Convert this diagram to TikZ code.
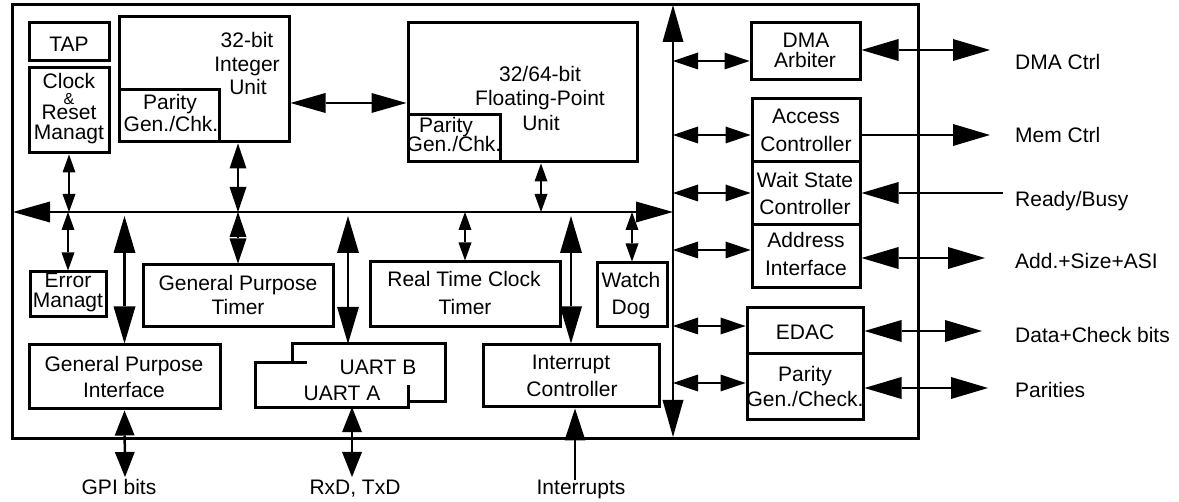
\documentclass[tikz,border=0pt]{standalone}
\usepackage{fontspec}
\setmainfont{Liberation Sans}
\usetikzlibrary{arrows.meta,fit}
\newcommand\mkbox[5]{\node[box,fit={(#2,#3) (#4,#5)}] (#1) {};}
\begin{document}
\begin{tikzpicture}[x=1pt,y=-1pt,
  box/.style={draw,line width=3pt,inner sep=0pt},
  txt/.style={font=\fontsize{21}{24}\selectfont,anchor=base,inner sep=0pt},
  lbl/.style={txt,anchor=base west},
  conn/.style={line width=2.5pt},
  bigarr/.style={conn,{Triangle[length=37pt,width=22pt,line width=0pt]}-{Triangle[length=37pt,width=22pt,line width=0pt]}},
  bigsingle/.style={conn,-{Triangle[length=37pt,width=22pt,line width=0pt]}},
  intarr/.style={conn,-{Triangle[length=32pt,width=21pt,line width=0pt]}},
  iuarr/.style={conn,{Triangle[length=35pt,width=20pt,line width=0pt]}-{Triangle[length=35pt,width=20pt,line width=0pt]}},
  medarr/.style={conn,{Triangle[length=25pt,width=17pt,line width=0pt]}-{Triangle[length=25pt,width=17pt,line width=0pt]}},
  botarr/.style={conn,{Triangle[length=25pt,width=20pt,line width=0pt]}-{Triangle[length=25pt,width=20pt,line width=0pt]}},
  smallarr/.style={conn,{Triangle[length=18pt,width=13pt,line width=0pt]}-{Triangle[length=18pt,width=13pt,line width=0pt]}},
  busarr/.style={conn,{Triangle[length=37pt,width=21pt,line width=0pt]}-{Triangle[length=37pt,width=21pt,line width=0pt]}}
]
\useasboundingbox (0,0) rectangle (1179,502);
% frame
\mkbox{frame}{12}{5}{918}{439}
% boxes
\mkbox{tap}{29}{23}{109}{61}
\mkbox{clk}{29}{68}{109}{153}
\mkbox{iu}{119}{17}{289}{142}
\mkbox{iup}{119}{90}{219}{142}
\mkbox{fpu}{408}{23}{637}{162}
\mkbox{fpup}{408}{115}{500}{162}
\mkbox{err}{30}{272}{106}{317}
\mkbox{gpt}{143}{265}{333}{327}
\mkbox{gpi}{29}{345}{220}{409}
\mkbox{rtc}{370}{262}{560}{327}
\mkbox{wd}{597}{263}{667}{327}
\mkbox{intc}{483}{345}{659}{407}
\mkbox{dma}{751}{23}{860}{80}
\mkbox{acc}{752}{99}{860}{162}
\mkbox{wait}{752}{162}{860}{225}
\mkbox{addr}{752}{225}{860}{288}
\mkbox{edac}{747}{308}{863}{354}
\mkbox{par}{747}{354}{863}{420}
% UART (two stacked boxes, union outline)
\node[inner sep=0pt,fit={(293,344) (445,401)}] (uartb) {};
\node[inner sep=0pt,fit={(256,363) (408,407)}] (uarta) {};
\draw[line width=3pt] (uarta.north west) -- (uarta.north west -| uartb.west) -- (uartb.north west)
  -- (uartb.north east) -- (uartb.south east) -- (uartb.south east -| uarta.east)
  -- (uarta.south east) -- (uarta.south west) -- cycle;
\draw[line width=3pt] (uarta.north west) -- ++(51,0);
\draw[line width=3pt] (uarta.south east) -- ++(0,-22);
% texts
\node[txt] (tap-t) at (69,52) {TAP};
\node[txt] (clk-t1) at (69,89) {Clock};
\node[txt,font=\fontsize{16}{18}\selectfont] (clk-t2) at (69,105) {\&};
\node[txt] (clk-t3) at (69,120) {Reset};
\node[txt] (clk-t4) at (69,140) {Managt};
\node[txt] (iu-t1) at (247,48) {32-bit};
\node[txt] (iu-t2) at (247,72) {Integer};
\node[txt] (iu-t3) at (248,95) {Unit};
\node[txt] (iup-t1) at (170,110) {Parity};
\node[txt] (iup-t2) at (171,132) {Gen./Chk.};
\node[txt] (fpu-t1) at (540,82) {32/64-bit};
\node[txt] (fpu-t2) at (540,106) {Floating-Point};
\node[txt] (fpu-t3) at (541,131) {Unit};
\node[txt] (fpup-t1) at (446,133) {Parity};
\node[txt] (fpup-t2) at (454,152) {Gen./Chk.};
\node[txt] (err-t1) at (68,288) {Error};
\node[txt] (err-t2) at (68,308) {Managt};
\node[txt] (gpt-t1) at (238,291) {General Purpose};
\node[txt] (gpt-t2) at (238,315) {Timer};
\node[txt] (gpi-t1) at (124,372) {General Purpose};
\node[txt] (gpi-t2) at (124,398) {Interface};
\node[txt] (uartb-t) at (378,375) {UART B};
\node[txt] (uarta-t) at (342,401) {UART A};
\node[txt] (rtc-t1) at (464,287) {Real Time Clock};
\node[txt] (rtc-t2) at (465,315) {Timer};
\node[txt] (wd-t1) at (631,288) {Watch};
\node[txt] (wd-t2) at (631,315) {Dog};
\node[txt] (intc-t1) at (571,370) {Interrupt};
\node[txt] (intc-t2) at (572,397) {Controller};
\node[txt] (dma-t1) at (806,48) {DMA};
\node[txt] (dma-t2) at (805,68) {Arbiter};
\node[txt] (acc-t1) at (806,124) {Access};
\node[txt] (acc-t2) at (806,152) {Controller};
\node[txt] (wait-t1) at (805,188) {Wait State};
\node[txt] (wait-t2) at (805,215) {Controller};
\node[txt] (addr-t1) at (806,248) {Address};
\node[txt] (addr-t2) at (806,276) {Interface};
\node[txt] (edac-t) at (805,340) {EDAC};
\node[txt] (par-t1) at (805,382) {Parity};
\node[txt] (par-t2) at (805,407) {Gen./Check.};
\node[lbl] (l-dma) at (1015,70) {DMA Ctrl};
\node[lbl] (l-mem) at (1015,143) {Mem Ctrl};
\node[lbl] (l-rdy) at (1015,207) {Ready/Busy};
\node[lbl] (l-add) at (1015,269) {Add.+Size+ASI};
\node[lbl] (l-data) at (1015,343) {Data+Check bits};
\node[lbl] (l-par) at (1015,398) {Parities};
\node[txt] (l-gpi) at (119,495) {GPI bits};
\node[txt] (l-rxd) at (355,495) {RxD, TxD};
\node[txt] (l-int) at (581,495) {Interrupts};
% buses
\coordinate (hbL) at (13,212);
\coordinate (hbR) at (673,212);
\coordinate (vbT) at (673,5);
\coordinate (vbB) at (673,437);
\draw[busarr] (hbL) -- (hbR);
\draw[busarr] (vbT) -- (vbB);
% helper coordinates
\coordinate (xfpu) at (541,0);
\coordinate (xuart) at (348,0);
\coordinate (yiu) at (0,103);
\coordinate (ybus) at (0,216);
% small arrows
\draw[smallarr] (clk.south) -- (clk.south |- hbL);
\draw[smallarr] (hbL -| err.north) -- (err.north);
\draw[smallarr] (hbL -| rtc.north) -- (rtc.north);
\draw[smallarr] (hbL -| wd.north) -- (wd.north);
\draw[smallarr] (xfpu |- fpu.south) -- (xfpu |- hbL);
% medium
\draw[medarr] (gpt.north |- iu.south) -- (gpt.north |- hbL);
\draw[medarr] (hbL -| gpt.north) -- (gpt.north);
% big
\draw[bigarr] (ybus -| gpi.north) -- (gpi.north);
\draw[bigarr] (xuart |- ybus) -- (xuart |- uartb.north);
\draw[bigarr] (ybus -| intc.north) -- (intc.north);
\draw[iuarr] (iu.east |- yiu) -- (fpu.west |- yiu);
% bottom
\coordinate (gpibits) at (125,477);
\coordinate (rxd) at (352,477);
\coordinate (intin) at (575,480);
\draw[botarr] (gpi.south) -- (gpibits);
\draw[botarr] (rxd |- uarta.south) -- (rxd);
\draw[intarr] (intin) -- (intin |- intc.south);
% right bus arrows
\coordinate (r1) at (673,61);
\coordinate (r2) at (673,135);
\coordinate (r3) at (673,193);
\coordinate (r4) at (673,250);
\coordinate (r5) at (673,326);
\coordinate (r6) at (673,383);
\draw[medarr] (r1) -- (r1 -| dma.west);
\draw[medarr] (r2) -- (r2 -| acc.west);
\draw[medarr] (r3) -- (r3 -| wait.west);
\draw[medarr] (r4) -- (r4 -| addr.west);
\draw[medarr] (r5) -- (r5 -| edac.west);
\draw[medarr] (r6) -- (r6 -| par.west);
% external
\coordinate (e1) at (990,50);
\coordinate (e2) at (990,135);
\coordinate (e3) at (1003,193);
\coordinate (e4) at (985,258);
\coordinate (e5) at (982,331);
\coordinate (e6) at (988,388);
\draw[bigarr] (dma.east |- e1) -- (e1);
\draw[bigsingle] (acc.east |- e2) -- (e2);
\draw[bigsingle] (e3) -- (e3 -| wait.east);
\draw[bigarr] (addr.east |- e4) -- (e4);
\draw[bigarr] (edac.east |- e5) -- (e5);
\draw[bigarr] (par.east |- e6) -- (e6);
\end{tikzpicture}
\end{document}
